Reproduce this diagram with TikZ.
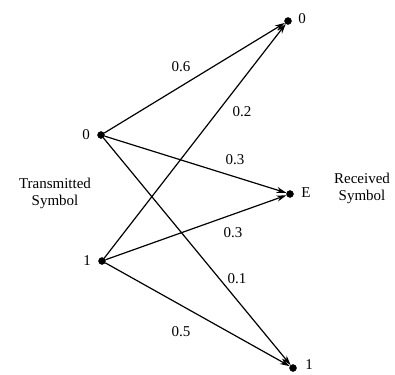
\documentclass[tikz,border=0pt]{standalone}
\usepackage{fontspec}
\setmainfont{Liberation Serif}
\usetikzlibrary{arrows.meta}

\tikzset{
  dot/.style={circle, minimum size=7pt, inner sep=0pt, fill=black, draw=black},
  prob/.style={font=\fontsize{15}{17}\selectfont, inner sep=1pt},
  sym/.style={font=\fontsize{15}{17}\selectfont, inner sep=1pt},
  chan/.style={line width=1.2pt, -{Stealth[length=10pt, width=6pt]}}
}

\begin{document}
\begin{tikzpicture}
\useasboundingbox (0pt, 0pt) rectangle (395pt, -374pt);
\node (t0) [dot] at (101.0pt, -135.0pt) {};
\node (t1) [dot] at (102.0pt, -261.0pt) {};
\node (r0) [dot] at (288.0pt, -21.0pt) {};
\node (rE) [dot] at (290.0pt, -194.0pt) {};
\node (r1) [dot] at (293.0pt, -368.0pt) {};
\node (t0l) [sym] at (86.0pt, -135.0pt) {0};
\node (t1l) [sym] at (87.0pt, -261.0pt) {1};
\node (r0l) [sym] at (302.0pt, -19.0pt) {0};
\node (rEl) [sym] at (306.0pt, -193.0pt) {E};
\node (r1l) [sym] at (309.0pt, -365.0pt) {1};
\node (tx) [sym, align=center] at (55.0pt, -193.0pt) {Transmitted\\Symbol};
\node (rx) [sym, align=center] at (362.0pt, -188.0pt) {Received\\Symbol};
\draw [chan] (t0) to (r0);
\draw [chan] (t1) to (r0);
\draw [chan] (t0) to (rE);
\draw [chan] (t1) to (rE);
\draw [chan] (t0) to (r1);
\draw [chan] (t1) to (r1);
\node (p1) [prob] at (181.0pt, -67.0pt) {0.6};
\node (p2) [prob] at (242.0pt, -112.0pt) {0.2};
\node (p3) [prob] at (235.0pt, -160.0pt) {0.3};
\node (p4) [prob] at (233.0pt, -233.0pt) {0.3};
\node (p5) [prob] at (237.0pt, -279.0pt) {0.1};
\node (p6) [prob] at (181.0pt, -332.0pt) {0.5};
\end{tikzpicture}
\end{document}
